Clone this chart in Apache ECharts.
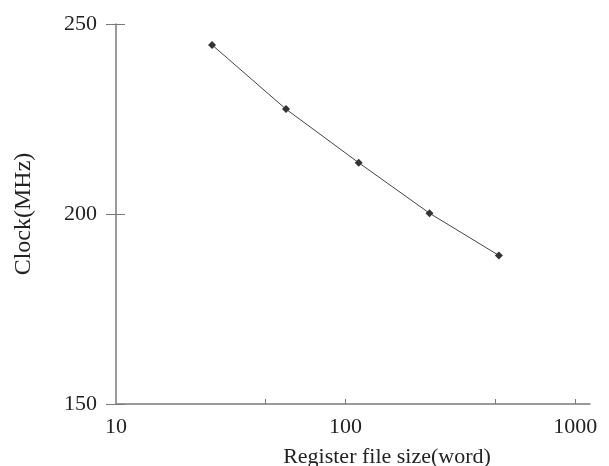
<!DOCTYPE html>
<html>
<head>
<meta charset="utf-8">
<script src="https://cdn.jsdelivr.net/npm/echarts@6/dist/echarts.min.js"></script>
<style>html,body{margin:0;padding:0;background:#fff}#c{width:609px;height:466px}</style>
</head>
<body>
<div id="c"></div>
<script>
var registerSizes = [26.2, 55, 114, 232, 465];
var clockMHz = [244.5, 227.6, 213.5, 200.2, 189.1];
var xLabelValues = [10, 100, 1000];
var xTickValues = [44.7, 100, 447, 1000];
var yTicks = [150, 200, 250];

var chart = echarts.init(document.getElementById('c'));
var font = 'Liberation Serif';
var axisColor = '#7a7a7a';
chart.setOption({
  animation: false,
  grid: {left: 116, right: 19, top: 24, bottom: 62, containLabel: false, outerBoundsMode: 'none'},
  xAxis: {
    type: 'log', logBase: 10, min: 10, max: 1160,
    name: 'Register file size(word)', nameLocation: 'middle', nameGap: 42,
    nameTextStyle: {fontFamily: font, fontSize: 22, color: '#222', padding: [0, 0, 0, 68]},
    axisLine: {lineStyle: {color: axisColor, width: 1.5}},
    axisTick: {inside: true, length: 5, lineStyle: {color: axisColor}, customValues: xTickValues},
    axisLabel: {fontFamily: font, fontSize: 22, color: '#222', margin: 12, customValues: xLabelValues,
      formatter: function (v) { return String(Math.round(v)); }},
    splitLine: {show: false}
  },
  yAxis: [{
    type: 'value', min: yTicks[0], max: yTicks[yTicks.length - 1], interval: 50,
    name: 'Clock(MHz)', nameLocation: 'middle', nameGap: 80,
    nameTextStyle: {fontFamily: font, fontSize: 24, color: '#222'},
    axisLine: {show: true, lineStyle: {color: axisColor, width: 1.5}},
    axisTick: {show: true, length: 10, lineStyle: {color: axisColor}},
    axisLabel: {fontFamily: font, fontSize: 22, color: '#222', margin: 19},
    splitLine: {show: false}
  }, {
    type: 'value', min: yTicks[0], max: yTicks[yTicks.length - 1], interval: 50, position: 'left',
    axisLine: {show: false},
    axisTick: {show: true, inside: true, length: 9, lineStyle: {color: axisColor}},
    axisLabel: {show: false},
    splitLine: {show: false}
  }],
  series: [{
    type: 'line',
    data: registerSizes.map(function (x, i) { return [x, clockMHz[i]]; }),
    symbol: 'diamond', symbolSize: 8,
    lineStyle: {color: '#444', width: 1},
    itemStyle: {color: '#333'}
  }]
});
</script>
</body>
</html>
